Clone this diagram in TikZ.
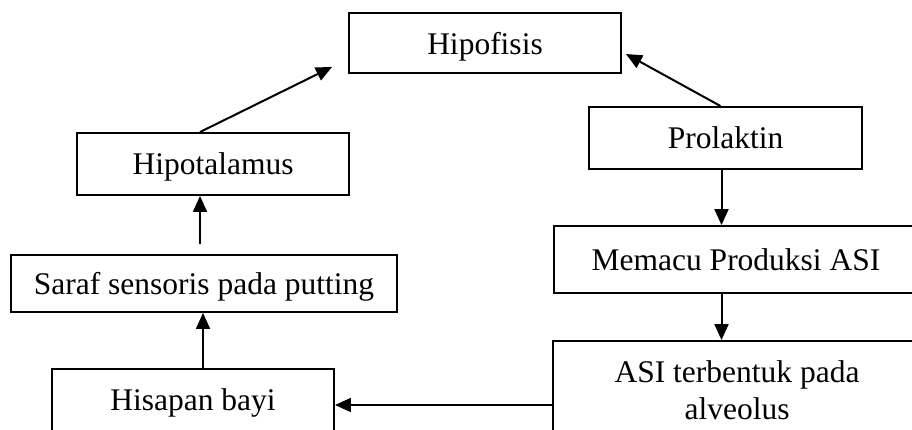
\documentclass[tikz,border=0pt]{standalone}
\usepackage{fontspec}
\setmainfont{Liberation Serif}
\usetikzlibrary{arrows.meta,calc}
\begin{document}
\begin{tikzpicture}[x=1pt,y=-1pt,
  box/.style={draw,line width=1.9pt,inner sep=0pt,align=center,text depth=0pt,
    font=\fontsize{31.5}{37}\selectfont},
  arr/.style={line width=2pt,-{Triangle[length=16pt,width=14pt]}}]
\useasboundingbox (0,0) rectangle (912,430);
\node[box,minimum width=272,minimum height=60] (hipo) at (485,43) {Hipofisis};
\node[box,minimum width=272,minimum height=62] (hipot) at (213,164) {Hipotalamus};
\node[box,minimum width=386,minimum height=57] (saraf) at (204,283.5) {Saraf sensoris pada putting};
\node[box,minimum width=273,minimum height=62] (prol) at (725.5,138) {Prolaktin};
\node[box,minimum width=364,minimum height=67] (memacu) at (736,259.5) {Memacu Produksi ASI};
\node[box,minimum width=368,minimum height=98] (asi) at (737,390) {ASI terbentuk pada\\alveolus};
\node[box,minimum width=282,minimum height=62] (hisap) at (193,400) {Hisapan bayi};
\coordinate (t1) at ($(hipo.south west)+(-16,-7)$);
\coordinate (t2) at ($(hipo.east)+(4,11)$);
\coordinate (aw) at ([yshift=-15pt]asi.west);
\draw[arr] ([xshift=-13pt]hipot.north) -- (t1);
\draw[arr] ([xshift=-5pt]prol.north) -- (t2);
\draw[arr] ([xshift=-4pt]prol.south) -- ([xshift=-4pt]prol.south |- memacu.north);
\draw[arr] ([xshift=-4pt]prol.south |- memacu.south) -- ([xshift=-4pt]prol.south |- asi.north);
\draw[arr] (aw) -- (hisap.east |- aw);
\draw[arr] ([xshift=10pt]hisap.north) -- ([xshift=10pt]hisap.north |- saraf.south);
\draw[arr] ([xshift=-4pt,yshift=10pt]saraf.north) -- ([xshift=-4pt]saraf.north |- hipot.south);
\end{tikzpicture}
\end{document}
